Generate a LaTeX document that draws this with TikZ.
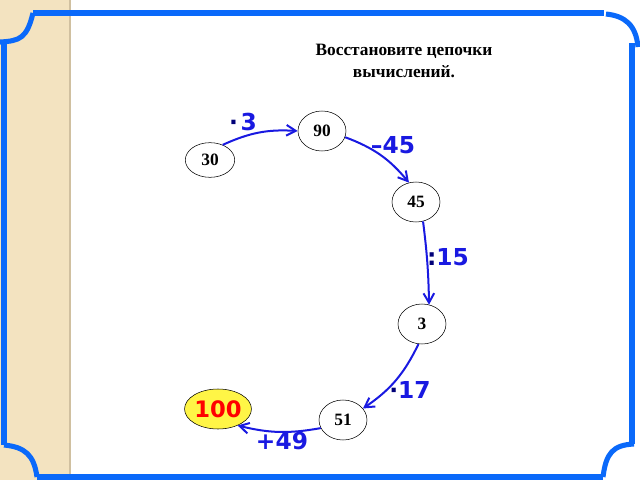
\documentclass[tikz,border=0pt]{standalone}
\usepackage{fontspec}
\setmainfont{Liberation Serif}
\newfontfamily\labelfont{DejaVu Sans}
\usetikzlibrary{arrows.meta,shapes.geometric}
\definecolor{frBlue}{RGB}{10,105,250}
\definecolor{arBlue}{RGB}{25,25,225}
\definecolor{dotBlue}{RGB}{0,0,120}
\definecolor{stripBeige}{RGB}{243,227,192}
\definecolor{stripEdge}{RGB}{208,192,160}
\definecolor{goalYellow}{RGB}{255,245,70}
\tikzset{
    frame/.style={draw=frBlue, line width=3.8pt, line cap=butt},
    num/.style={ellipse, draw=black, thin, fill=white, minimum width=36pt,
                minimum height=30pt, inner sep=0pt,
                font=\bfseries\fontsize{13}{15}\selectfont},
    goal/.style={num, fill=goalYellow, minimum width=48pt, text=red,
                 font=\labelfont\bfseries\fontsize{17}{20}\selectfont},
    flow/.style={-{Straight Barb[length=7pt,width=8pt]}, line width=1.5pt, color=arBlue},
    oplabel/.style={font=\labelfont\bfseries\fontsize{17.5}{20}\selectfont, text=arBlue, inner sep=1pt},
    title/.style={font=\bfseries\fontsize{13}{16.5}\selectfont, align=center}
}

\begin{document}
\begin{tikzpicture}[x=0.75pt, y=0.75pt]
  \useasboundingbox (0,0) rectangle (640,480);
  % left strip
  \fill[stripBeige] (0,0) rectangle (70,480);
  \draw[stripEdge, line width=1pt] (70,0) -- (70,480);

  % frame pieces
  \draw[frame] (33,467) -- (604,467);
  \draw[frame] (33,467) .. controls (27,442) and (20,439) .. (0,438);
  \draw[frame] (4,438) -- (4,35);
  \draw[frame] (4,35) .. controls (25,33) and (34,25) .. (37,3);
  \draw[frame] (37,3) -- (603,3);
  \draw[frame] (603,3) .. controls (606,27) and (613,35) .. (634,36);
  \draw[frame] (632,36) -- (632,437);
  \draw[frame] (606,466) .. controls (625,464) and (636,455) .. (638,433);

  % title
  \node[title] (head) at (404,419) {Восстановите цепочки\\вычислений.};

  % chain of numbers
  \node[num, minimum width=37pt, minimum height=26pt] (n30) at (210,320) {30};
  \node[num] (n90) at (322,349) {90};
  \node[num] (n45) at (416,278) {45};
  \node[num] (n3) at (422,156) {3};
  \node[num] (n51) at (343,60) {51};
  \node[goal] (n100) at (218,71) {100};

  % arrows
  \draw[flow] (n30.50) to[bend left=14] (n90.west);
  \draw[flow] (n90.-15) to[bend left=15] (n45.110);
  \draw[flow] (n45.-70) to[bend left=3] (n3.70);
  \draw[flow] (n3.-100) to[bend left=15] (n51.30);
  \draw[flow] (n51.200) to[bend left=12] (n100.-40);

  % operations
  \node[oplabel] (op1) at (243,358) {{\color{dotBlue}·}\kern2pt 3};
  \node[oplabel] (op2) at (393,335) {–45};
  \node[oplabel] (op3) at (448,223) {{\color{dotBlue}:}15};
  \node[oplabel] (op4) at (410,90) {{\color{dotBlue}·}17};
  \node[oplabel] (op5) at (282,39) {+49};
\end{tikzpicture}
\end{document}
